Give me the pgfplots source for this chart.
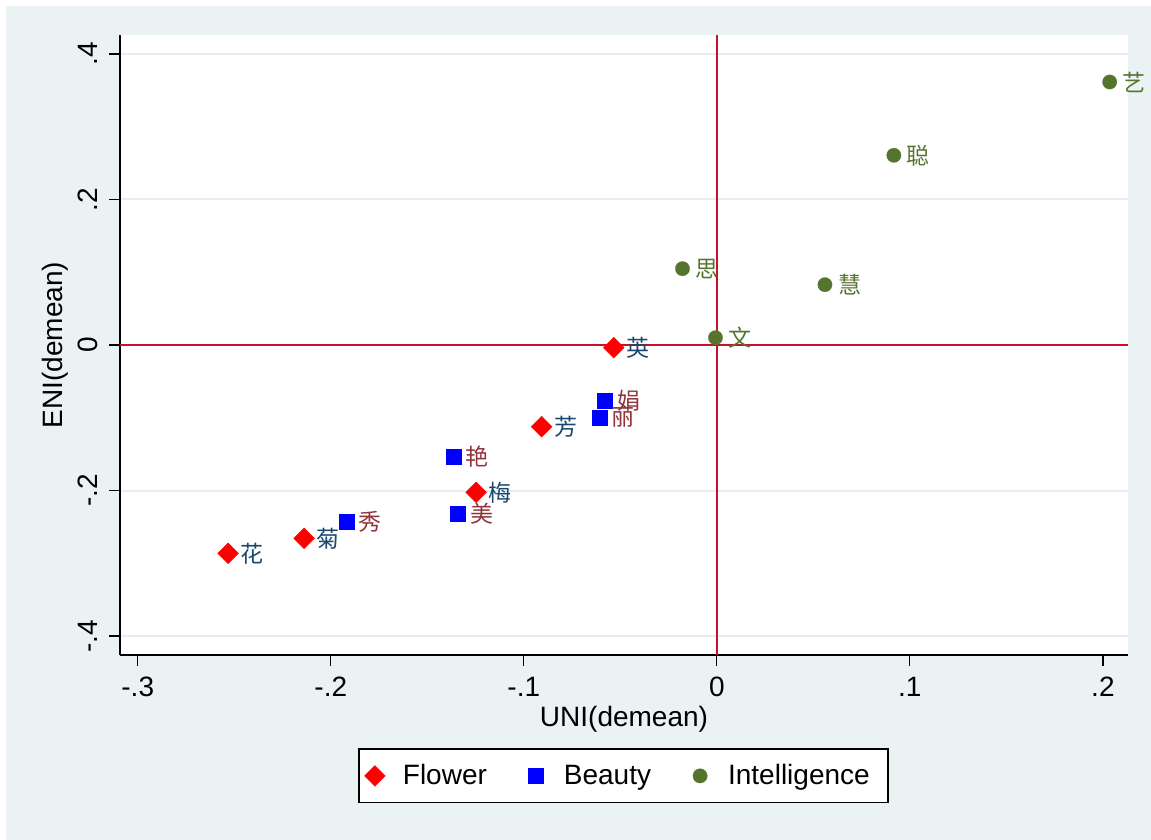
\documentclass[border=0pt]{standalone}
\usepackage{fontspec}
\setmainfont{Liberation Sans}
\newfontfamily\cjk{Noto Sans CJK SC}
\usepackage{pgfplots}
\pgfplotsset{compat=1.18}
\usepackage{pgfplotstable}
\definecolor{bgc}{HTML}{EAF2F3}
\definecolor{gridc}{HTML}{E6EEF0}
\definecolor{navy}{RGB}{26,71,111}
\definecolor{maroon}{RGB}{144,53,59}
\definecolor{fgreen}{RGB}{85,117,47}
\definecolor{refred}{RGB}{200,16,46}

\pgfplotstableread{
x y lab
-0.0534 -0.0037 英
-0.0908 -0.1123 芳
-0.1247 -0.2025 梅
-0.2138 -0.2657 菊
-0.2532 -0.2863 花
}\flower
\pgfplotstableread{
x y lab
-0.0582 -0.0770 娟
-0.0610 -0.0994 丽
-0.1366 -0.1530 艳
-0.1342 -0.2323 美
-0.1919 -0.2424 秀
}\beauty
\pgfplotstableread{
x y lab
0.2035 0.3615 艺
0.0917 0.2607 聪
0.0560 0.0829 慧
-0.0178 0.1049 思
-0.0007 0.0100 文
}\intel

\begin{document}
\begin{tikzpicture}
\path[use as bounding box] (0,0) rectangle (575.5pt,420pt);
\fill[white] (0,0) rectangle (575.5pt,420pt);
\fill[bgc] (3pt,0) rectangle (575.5pt,417pt);
\begin{axis}[
  at={(60pt,92.5pt)}, anchor=south west,
  scale only axis, width=504pt, height=310pt,
  xmin=-0.3092, xmax=0.213, ymin=-0.4261, ymax=0.4261,
  axis background/.style={fill=white},
  axis x line*=bottom, axis y line*=left,
  axis line style={black, line width=0.6pt, -},
  tick align=outside, major tick length=5.5pt,
  tick style={black, line width=0.6pt},
  xtick={-0.3,-0.2,-0.1,0,0.1,0.2},
  xticklabels={-.3,-.2,-.1,0,.1,.2},
  ytick={-0.4,-0.2,0,0.2,0.4},
  yticklabels={-.4,-.2,0,.2,.4},
  ymajorgrids, grid style={gridc, line width=1pt},
  ticklabel style={font=\fontsize{14pt}{16pt}\selectfont},
  xticklabel style={anchor=north, inner sep=0pt},
  yticklabel style={rotate=90, anchor=south, inner sep=0pt},
  xticklabel shift=5.5pt, yticklabel shift=5.5pt,
  xlabel={UNI(demean)}, ylabel={ENI(demean)},
  label style={font=\fontsize{14pt}{16pt}\selectfont},
  xlabel style={at={(axis description cs:0.5,-0.1161)}, anchor=base},
  ylabel style={at={(axis description cs:-0.0566,0.5)}, anchor=base},
  legend columns=3,
  legend cell align=left,
  legend image code/.code={\path[draw=none,fill=none] (-6pt,-3pt) rectangle (6pt,3pt); \draw[#1] plot coordinates {(0pt,0pt)};},
  legend style={at={(axis description cs:0.2362,-0.195)}, anchor=west,
    draw=black, line width=0.8pt, fill=white, inner xsep=2pt, inner ysep=5.5pt,
    font=\fontsize{14pt}{16pt}\selectfont,
    /tikz/every odd column/.append style={column sep=6pt},
    /tikz/every even column/.append style={column sep=16.5pt}},
  clip=false,
]
\draw[refred, line width=1.1pt] (axis cs:0,-0.4261) -- (axis cs:0,0.4261);
\draw[refred, line width=1.1pt] (axis cs:-0.3092,0) -- (axis cs:0.213,0);

\addplot[only marks, mark=square*, mark size=3.71pt, color=red,
  mark options={solid, rotate=45, line width=0.1pt},
  nodes near coords, point meta=explicit symbolic,
  nodes near coords style={font=\cjk\fontsize{11.5pt}{12pt}\selectfont, text=navy, anchor=west, inner sep=0pt, xshift=6.2pt, rotate=0}]
  table[x=x, y=y, meta=lab] {\flower};
\addlegendentry{Flower}

\addplot[only marks, mark=square*, mark size=3.75pt, color=blue,
  mark options={solid, line width=0.1pt},
  nodes near coords, point meta=explicit symbolic,
  nodes near coords style={font=\cjk\fontsize{11.5pt}{12pt}\selectfont, text=maroon, anchor=west, inner sep=0pt, xshift=6.2pt}]
  table[x=x, y=y, meta=lab] {\beauty};
\addlegendentry{Beauty}

\addplot[only marks, mark=*, mark size=3.6pt, color=fgreen,
  mark options={solid, line width=0.1pt},
  nodes near coords, point meta=explicit symbolic,
  nodes near coords style={font=\cjk\fontsize{11.5pt}{12pt}\selectfont, text=fgreen, anchor=west, inner sep=0pt, xshift=6.5pt}]
  table[x=x, y=y, meta=lab] {\intel};
\addlegendentry{Intelligence\hspace*{5pt}}
\end{axis}
\end{tikzpicture}
\end{document}
